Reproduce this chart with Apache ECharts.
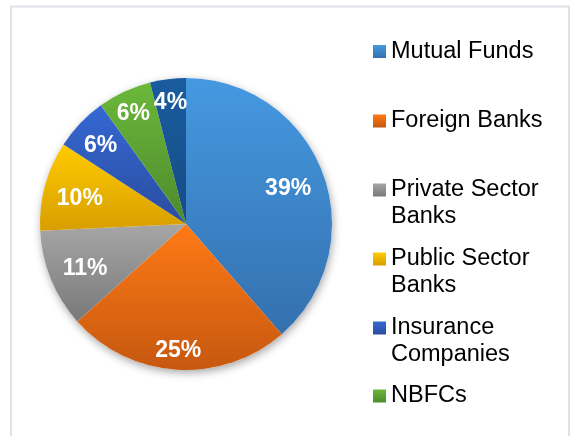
<!DOCTYPE html>
<html>
<head>
<meta charset="utf-8">
<script src="https://cdn.jsdelivr.net/npm/echarts@6/dist/echarts.min.js"></script>
<style>
html,body{margin:0;padding:0;background:#fff;}
#chart{width:572px;height:436px;}
</style>
</head>
<body>
<div id="chart"></div>
<script>
// ---- data ----
const categories = ['Mutual Funds', 'Foreign Banks', 'Private Sector Banks', 'Public Sector Banks', 'Insurance Companies', 'NBFCs', 'Others'];
const shares = [39, 25, 11, 10, 6, 6, 4];
const legendNames = ['Mutual Funds', 'Foreign Banks', 'Private Sector Banks', 'Public Sector Banks', 'Insurance Companies', 'NBFCs'];
const legendLines = [['Mutual Funds'], ['Foreign Banks'], ['Private Sector', 'Banks'], ['Public Sector', 'Banks'], ['Insurance', 'Companies'], ['NBFCs']];

// ---- styles ----
const gradTop = ['#4599e1', '#ff7a15', '#a6a6a6', '#ffcb00', '#3568d4', '#6bb83a', '#1a5c9e'];
const gradBottom = ['#3470ae', '#c65810', '#797979', '#d89e00', '#2a4d9e', '#4e8a2d', '#154c86'];
const labelRadius = [106, 121, 106, 107, 115, 122, 122];
const legendFirstLineY = [51.5, 121, 190, 259, 328, 396];
const R = 146;
const CENTER = [186, 224];
const LINE_H = 27;

function grad(i) {
  return new echarts.graphic.LinearGradient(0, 0, 0, 1, [
    { offset: 0, color: gradTop[i] },
    { offset: 1, color: gradBottom[i] }
  ]);
}

const pieData = categories.map((n, i) => ({ name: n, value: shares[i], itemStyle: { color: grad(i) } }));

const series = [];
// shadow underlay
series.push({
  type: 'pie', name: 'shadow', silent: true, center: CENTER, radius: R,
  data: [{ name: '_bg', value: shares.reduce((a, b) => a + b, 0) }],
  itemStyle: { color: '#ffffff', shadowBlur: 8, shadowColor: 'rgba(0,0,0,0.35)', shadowOffsetX: 1, shadowOffsetY: 3 },
  label: { show: false }, labelLine: { show: false }, emphasis: { disabled: true }, z: 1
});
// main pie
series.push({
  type: 'pie', name: 'main', center: CENTER, radius: R, startAngle: 90, clockwise: true,
  data: pieData, label: { show: false }, labelLine: { show: false },
  emphasis: { disabled: true }, z: 2
});
// label rings (transparent)
categories.forEach((c, i) => {
  series.push({
    type: 'pie', name: 'lbl' + i, silent: true, center: CENTER,
    radius: [2 * labelRadius[i] - R, R], startAngle: 90, clockwise: true,
    avoidLabelOverlap: false,
    data: categories.map((n, j) => ({
      name: n, value: shares[j],
      label: { show: j === i }
    })),
    itemStyle: { color: 'rgba(0,0,0,0)' },
    label: {
      position: 'inside', formatter: '{c}%', color: '#ffffff', offset: [0, 3],
      fontFamily: 'Liberation Sans', fontWeight: 'bold', fontSize: 23
    },
    labelLine: { show: false }, emphasis: { disabled: true }, z: 3
  });
});

const legends = legendNames.map((n, i) => {
  const multi = legendLines[i].length > 1;
  const lines = multi ? [''].concat(legendLines[i]) : legendLines[i];
  return {
    orient: 'vertical', left: 373,
    top: multi ? legendFirstLineY[i] - 1.5 * LINE_H : legendFirstLineY[i] - 0.5 * LINE_H,
    padding: 0, itemWidth: 13, itemHeight: 13, icon: 'rect', selectedMode: false,
    data: [n],
    formatter: () => lines.join('\n'),
    textStyle: {
      fontFamily: 'Liberation Sans', fontSize: 23.5, color: '#000000', lineHeight: LINE_H
    }
  };
});

const chart = echarts.init(document.getElementById('chart'), null, { renderer: 'canvas' });
chart.setOption({
  animation: false,
  backgroundColor: '#ffffff',
  legend: legends,
  graphic: [{
    type: 'rect', silent: true, z: -10,
    shape: { x: 11, y: 6.5, width: 558, height: 450 },
    style: { fill: 'none', stroke: '#dde2ea', lineWidth: 2 }
  }],
  series: series
});
</script>
</body>
</html>
